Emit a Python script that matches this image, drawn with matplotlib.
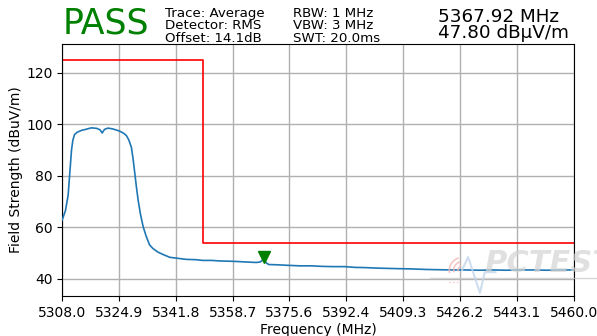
import numpy as np
import matplotlib.pyplot as plt
from matplotlib.lines import Line2D
from matplotlib.patches import Arc

# Trace data (average detector)
freq_mhz = [5308.0, 5309.0, 5309.8, 5310.4, 5310.8, 5311.2, 5311.7, 5312.5, 5313.7, 5315.0,
            5316.7, 5318.3, 5319.3, 5319.9, 5320.6, 5321.6, 5323.0, 5324.5, 5325.6, 5326.5,
            5327.1, 5327.8, 5328.6, 5329.1, 5329.6, 5330.1, 5330.6, 5331.3, 5332.1, 5333.0,
            5334.0, 5335.0, 5336.5, 5338.0, 5340.0, 5342.5, 5344.9, 5347.5, 5349.9, 5352.5,
            5354.8, 5357.5, 5359.8, 5362.5, 5365.7, 5366.9, 5367.92, 5368.6, 5369.4, 5372.0,
            5375.0, 5378.6, 5382.0, 5385.0, 5388.4, 5392.0, 5395.0, 5398.4, 5402.0, 5405.0,
            5408.3, 5412.0, 5416.0, 5420.0, 5424.0, 5428.1, 5432.0, 5436.0, 5440.0, 5443.0,
            5447.8, 5452.0, 5456.0, 5460.0]
level_dbuv = [62.8, 66.5, 72.5, 83.0, 90.0, 93.8, 96.0, 96.9, 97.6, 98.0,
              98.6, 98.4, 97.8, 96.6, 98.0, 98.5, 98.2, 97.6, 97.0, 96.3,
              95.6, 94.0, 91.0, 86.5, 81.0, 75.5, 70.5, 65.0, 60.2, 56.5,
              53.2, 51.8, 50.4, 49.5, 48.4, 48.0, 47.6, 47.5, 47.2, 47.2,
              47.0, 46.9, 46.8, 46.6, 46.4, 46.6, 47.8, 46.3, 45.6, 45.5,
              45.3, 45.1, 45.1, 44.9, 44.8, 44.8, 44.5, 44.4, 44.2, 44.1,
              44.0, 43.9, 43.7, 43.6, 43.5, 43.5, 43.4, 43.5, 43.4, 43.5,
              43.5, 43.4, 43.5, 43.5]

# Limit line
limit_freq = [5308.0, 5350.0, 5350.0, 5460.0]
limit_level = [125.0, 125.0, 54.0, 54.0]

# Marker
marker_freq = 5367.92
marker_level = 47.80

xticks = np.linspace(5308.0, 5460.0, 10)

fig = plt.figure(figsize=(5.97, 3.36), dpi=100)
ax = fig.add_axes([0.104, 0.119, 0.857, 0.750])

ax.plot(freq_mhz, level_dbuv, color='#1f77b4', lw=1.2, zorder=3)
ax.plot(limit_freq, limit_level, color='red', lw=1.2, zorder=2)
ax.plot([marker_freq], [marker_level + 0.9], marker='v', color='green',
        markersize=8, zorder=4)

ax.set_xlim(5308.0, 5460.0)
ax.set_ylim(33.4, 131.1)
ax.set_xticks(xticks)
ax.set_xticklabels(['%.1f' % f for f in xticks])
ax.set_yticks([40, 60, 80, 100, 120])
ax.grid(True, color='#b0b0b0', lw=1.0)
ax.set_axisbelow(True)
ax.tick_params(labelsize=10)
ax.set_xlabel('Frequency (MHz)', fontsize=10, labelpad=2)
ax.set_ylabel('Field Strength (dBuV/m)', fontsize=10, labelpad=2)

# Header
fig.text(0.105, 0.930, 'PASS', color='green', fontsize=25, va='center', ha='left')
fig.text(0.276, 0.923, 'Trace: Average\nDetector: RMS\nOffset: 14.1dB',
         fontsize=9.6, va='center', ha='left', linespacing=0.95)
fig.text(0.490, 0.923, 'RBW: 1 MHz\nVBW: 3 MHz\nSWT: 20.0ms',
         fontsize=9.6, va='center', ha='left', linespacing=0.95)
fig.text(0.733, 0.925, '%.2f MHz\n%.2f dBµV/m' % (marker_freq, marker_level),
         fontsize=13.2, va='center', ha='left', linespacing=0.9)

# Faint logo in the lower right
fig.text(0.812, 0.190, 'PCTEST', fontsize=22, fontweight='bold', style='italic',
         color='#d4d4d4', alpha=0.7, ha='left', va='baseline', zorder=5)
fig.add_artist(Line2D([0.72, 1.0], [0.173, 0.173], color='#c8c8c8', lw=1.0, alpha=0.7))
fig.add_artist(Line2D([0.774, 0.784, 0.804, 0.812, 0.830],
                      [0.196, 0.235, 0.128, 0.190, 0.190],
                      color='#c2d6ec', lw=1.5, alpha=0.8))
for r in (0.010, 0.019, 0.028):
    fig.add_artist(Arc((0.775, 0.195), r * 1.6, r * 2.8, theta1=100, theta2=200,
                       color='#f2b8b8', lw=1.2, alpha=0.8))
fig.add_artist(Line2D([0.752, 0.768], [0.160, 0.160], color='#f2b8b8', lw=1.0,
                      ls=':', alpha=0.8))

fig.savefig('out.png', dpi=100)
